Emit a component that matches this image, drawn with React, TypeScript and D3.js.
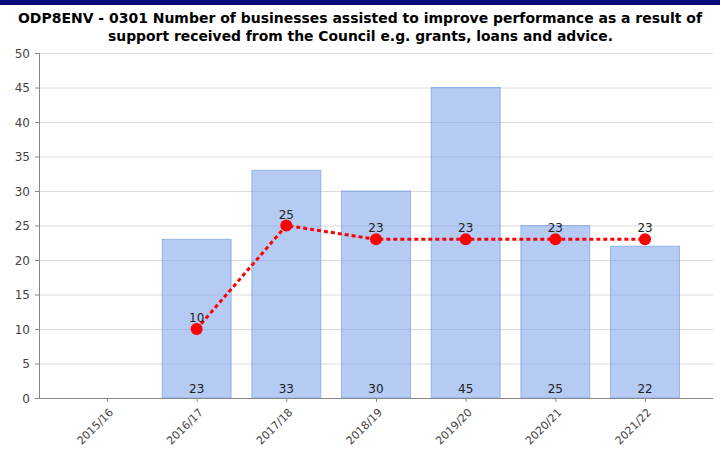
import React from "react";
import * as d3 from "d3";

const categories = ["2015/16", "2016/17", "2017/18", "2018/19", "2019/20", "2020/21", "2021/22"];
const barValues: (number | null)[] = [null, 23, 33, 30, 45, 25, 22];
const lineValues: (number | null)[] = [null, 10, 25, 23, 23, 23, 23];
const yTicks = [0, 5, 10, 15, 20, 25, 30, 35, 40, 45, 50];
const titleLines = [
  "ODP8ENV - 0301 Number of businesses assisted to improve performance as a result of",
  "support received from the Council e.g. grants, loans and advice.",
];

const W = 720;
const H = 452;
const left = 39;
const right = 713;
const top = 53;
const bottom = 398;

export default function App() {
  const x = d3.scalePoint<string>().domain(categories).range([left, right]).padding(0.758);
  const y = d3.scaleLinear().domain([0, 50]).range([bottom, top]);
  const barW = 69;
  const linePts = categories
    .map((c, i) => ({ c, v: lineValues[i] }))
    .filter((d) => d.v != null) as { c: string; v: number }[];
  const line = d3
    .line<{ c: string; v: number }>()
    .x((d) => x(d.c)!)
    .y((d) => y(d.v));
  const font = "Tahoma, 'DejaVu Sans', Verdana, sans-serif";
  return (
    <svg
      width={W}
      height={H}
      style={{ position: "absolute", left: 0, top: 0, background: "#fff" }}
      fontFamily={font}
    >
      <rect x={0} y={0} width={W} height={H} fill="#fff" />
      <rect x={0} y={0} width={W} height={5} fill="#0a0a7a" />
      <text x={18} y={22.5} fontSize={14} fontWeight="bold" fill="#000" textLength={684} lengthAdjust="spacingAndGlyphs">
        {titleLines[0]}
      </text>
      <text x={108} y={40.5} fontSize={14} fontWeight="bold" fill="#000" textLength={505} lengthAdjust="spacingAndGlyphs">
        {titleLines[1]}
      </text>
      {yTicks.map((t) => (
        <g key={t}>
          {t > 0 && <line x1={left} x2={right} y1={y(t) + 0.5} y2={y(t) + 0.5} stroke="#dcdcdc" strokeWidth={1} />}
          <line x1={left - 4} x2={left} y1={y(t) + 0.5} y2={y(t) + 0.5} stroke="#888" />
          <text x={30} y={y(t) + 4.5} fontSize={12} textAnchor="end" fill="#444">
            {t}
          </text>
        </g>
      ))}
      {categories.map((c, i) =>
        barValues[i] != null ? (
          <rect
            key={c}
            x={x(c)! - barW / 2}
            y={y(barValues[i]!)}
            width={barW}
            height={bottom - y(barValues[i]!)}
            fill="rgba(120,160,235,0.55)"
            stroke="rgba(110,150,230,0.6)"
            strokeWidth={1}
          />
        ) : null
      )}
      {categories.map((c, i) =>
        barValues[i] != null ? (
          <text key={c + "l"} x={x(c)!} y={393} fontSize={12} textAnchor="middle" fill="#222">
            {barValues[i]}
          </text>
        ) : null
      )}
      <line x1={left + 0.5} x2={left + 0.5} y1={top} y2={bottom} stroke="#888" />
      <line x1={left} x2={right} y1={bottom + 0.5} y2={bottom + 0.5} stroke="#888" />
      {categories.map((c) => (
        <g key={c + "t"}>
          <line x1={x(c)! + 0.5} x2={x(c)! + 0.5} y1={bottom} y2={bottom + 4} stroke="#888" />
          <text
            transform={`translate(${x(c)! + 7},${bottom + 15}) rotate(-45)`}
            fontSize={11}
            textAnchor="end"
            fill="#444"
          >
            {c}
          </text>
        </g>
      ))}
      <path d={line(linePts) || ""} fill="none" stroke="#ff0000" strokeWidth={3} strokeDasharray="4,3" />
      {linePts.map((d) => (
        <g key={d.c + "p"}>
          <circle cx={x(d.c)!} cy={y(d.v)} r={6} fill="#ff0000" />
          <text x={x(d.c)!} y={y(d.v) - 7} fontSize={12} textAnchor="middle" fill="#222">
            {d.v}
          </text>
        </g>
      ))}
    </svg>
  );
}
